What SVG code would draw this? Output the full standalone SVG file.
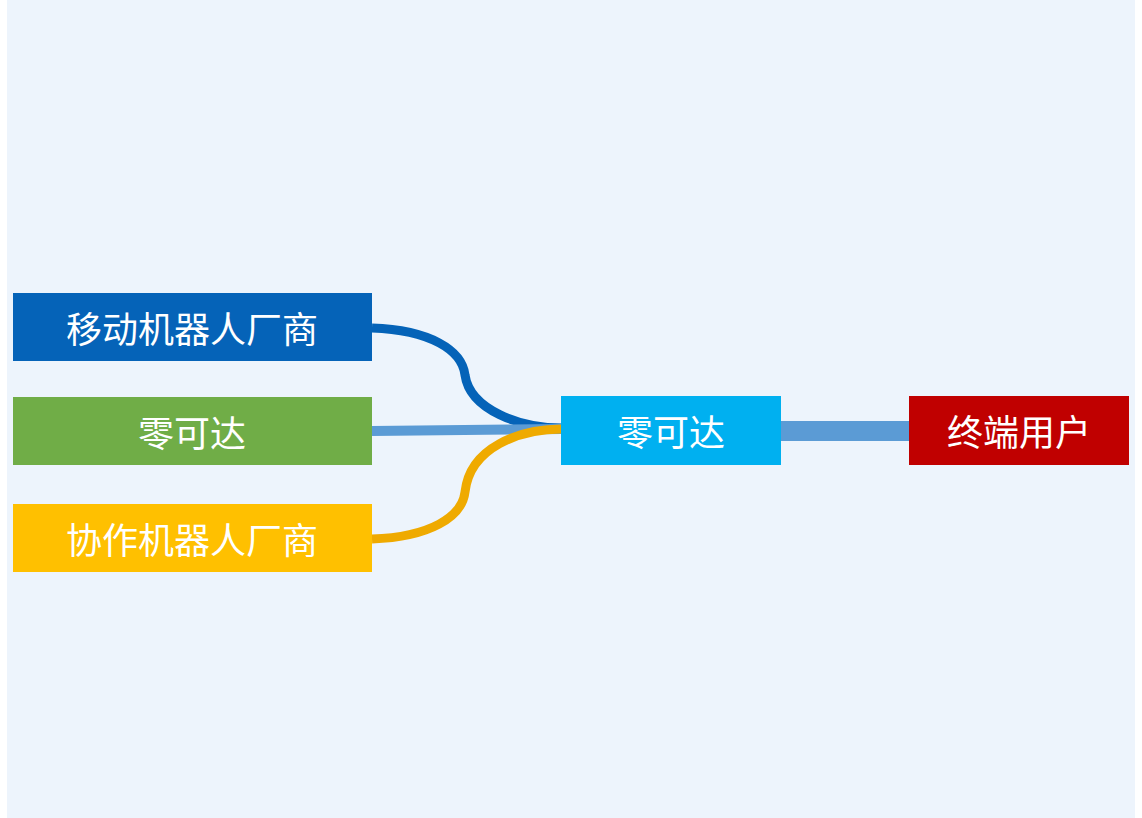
<svg xmlns="http://www.w3.org/2000/svg" width="1142" height="818" viewBox="0 0 1142 818">
<style>
text{font-family:"Noto Sans CJK SC","Liberation Sans",sans-serif;font-size:36px;fill:#fff;text-anchor:middle;dominant-baseline:central}
.c{fill:none;stroke-linecap:butt}
</style>
<rect width="1142" height="818" fill="#fff"/>
<rect x="7" y="0" width="1128" height="818" fill="#EDF4FC"/>
<g id="connectors">
<path class="c" d="M372,328 C430,330 462,350 465,375 C470,410 520,428 562,428" stroke="#0563B8" stroke-width="9"/>
<path class="c" d="M372,431 L562,429" stroke="#5B9BD5" stroke-width="10"/>
<path class="c" d="M372,539 C430,537 462,517 465,492 C470,447 520,429 562,429" stroke="#EFAA00" stroke-width="9"/>
<path class="c" d="M781,431 L909,431" stroke="#5B9BD5" stroke-width="20"/>
</g>
<g id="n1"><rect x="13" y="293" width="359" height="68" fill="#0563B8"/><text x="192" y="327">移动机器人厂商</text></g>
<g id="n2"><rect x="13" y="397" width="359" height="68" fill="#70AD47"/><text x="192" y="431">零可达</text></g>
<g id="n3"><rect x="13" y="504" width="359" height="68" fill="#FFC000"/><text x="192" y="538">协作机器人厂商</text></g>
<g id="n4"><rect x="561" y="396" width="220" height="69" fill="#00B0F0"/><text x="671" y="430">零可达</text></g>
<g id="n5"><rect x="909" y="396" width="220" height="69" fill="#C00000"/><text x="1019" y="430">终端用户</text></g>
</svg>
